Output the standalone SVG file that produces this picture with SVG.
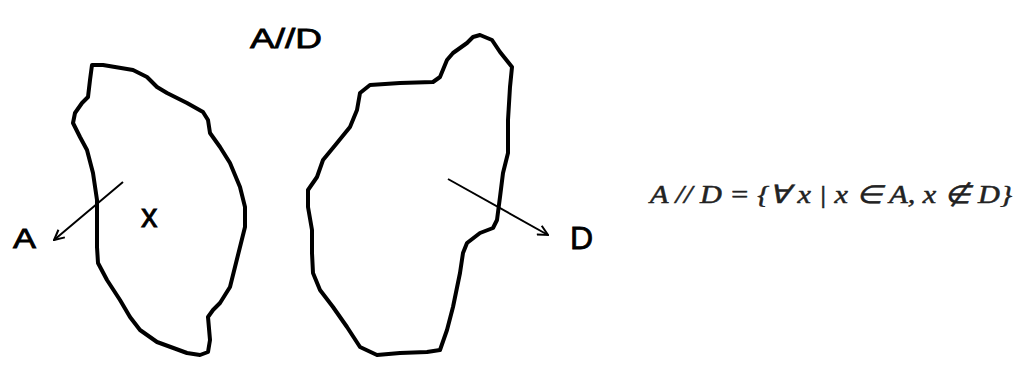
<svg xmlns="http://www.w3.org/2000/svg" width="1018" height="365" viewBox="0 0 1018 365">
<style>
.blob{fill:none;stroke:#000;stroke-width:4;stroke-linejoin:round;stroke-linecap:round}
.arr{fill:none;stroke:#000;stroke-width:2}
.lbl{font-family:"Liberation Sans",Arial,sans-serif;fill:#000;stroke:#000;stroke-width:0.8}
.eq{font-family:"Liberation Serif","Times New Roman",serif;font-style:italic;font-size:25px;fill:#222;stroke:#222;stroke-width:0.5}
</style>
<defs>
<marker id="ah" viewBox="0 0 12 12" refX="11" refY="6" markerWidth="12" markerHeight="12" markerUnits="userSpaceOnUse" orient="auto">
<path d="M1,1 L11,6 L1,11" fill="none" stroke="#000" stroke-width="2"/>
</marker>
</defs>
<rect width="1018" height="365" fill="#fff"/>
<g id="setA">
<path class="blob" d="M92,65 L103,65 L133,70 L147,77 L157,87 L167,93 L187,103 L203,112 L208,120 L210,133 L220,147 L230,163 L240,187 L245,207 L245,227 L240,247 L235,267 L230,287 L220,303 L213,310 L208,317 L210,340 L208,352 L200,355 L187,353 L157,342 L140,330 L130,317 L120,300 L107,280 L98,263 L97,247 L97,220 L97,200 L93,173 L87,150 L80,137 L73,123 L75,113 L82,103 L88,97 L90,80 Z"/>
</g>
<g id="setD">
<path class="blob" d="M480,35 L492,40 L500,52 L512,67 L510,87 L508,120 L508,153 L503,173 L500,197 L497,220 L493,228 L480,233 L467,243 L463,253 L460,273 L453,307 L447,330 L440,350 L427,352 L400,353 L377,355 L360,347 L347,327 L333,307 L320,290 L313,273 L312,253 L312,230 L308,207 L308,190 L317,177 L323,160 L337,143 L350,127 L357,110 L360,93 L370,85 L400,83 L433,82 L440,77 L447,60 L453,53 L467,43 L473,37 Z"/>
</g>
<g id="connectors">
<line class="arr" x1="123" y1="182" x2="54" y2="240" marker-end="url(#ah)"/>
<line class="arr" x1="448" y1="179" x2="548" y2="235" marker-end="url(#ah)"/>
</g>
<g id="labels">
<text class="lbl" x="13" y="248" font-size="28" textLength="23" lengthAdjust="spacingAndGlyphs">A</text>
<text class="lbl" x="141" y="227" font-size="33">x</text>
<text class="lbl" x="570" y="249" font-size="32">D</text>
<text class="lbl" x="250" y="48" font-size="28" textLength="72" lengthAdjust="spacingAndGlyphs">A//D</text>
</g>
<g id="formula">
<text class="eq" x="650" y="203" textLength="362" lengthAdjust="spacingAndGlyphs">A // D = {∀ x | x ∈ A, x ∉ D}</text>
</g>
</svg>
